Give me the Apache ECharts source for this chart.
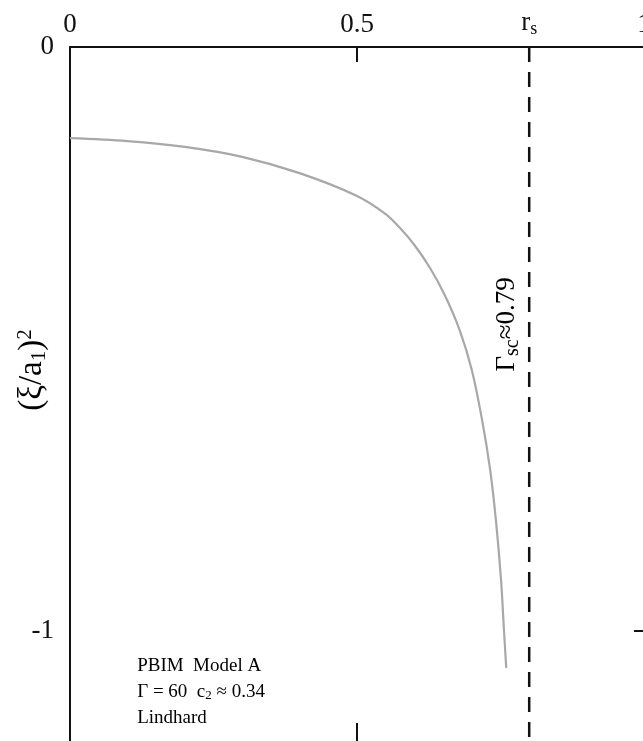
<!DOCTYPE html>
<html><head><meta charset="utf-8">
<script src="https://cdn.jsdelivr.net/npm/echarts@6/dist/echarts.min.js"></script>
<style>html,body{margin:0;padding:0;background:#fff}#c{width:643px;height:741px}</style>
</head><body><div id="c"></div>
<script>
const curveX = [0, 0.1, 0.2, 0.3, 0.4, 0.5, 0.55, 0.575, 0.6, 0.627, 0.653, 0.679, 0.700, 0.718, 0.732, 0.742, 0.751, 0.756, 0.760];
const curveY = [-0.156, -0.161, -0.171, -0.188, -0.216, -0.255, -0.286, -0.310, -0.339, -0.378, -0.425, -0.485, -0.553, -0.639, -0.724, -0.810, -0.913, -0.998, -1.063];
const rsValue = 0.8;
const xTicks = [0, 0.5, 0.8, 1];
const yTicks = [0, -1];
const textLines = ['PBIM  Model A', 'Γ = 60  c₂ ≈ 0.34', 'Lindhard'];

const FONT = '"Liberation Serif","DejaVu Serif",serif';
const X0 = 70, W = 574, Y0 = 47, YMIN = -1.195, H = 698;
const chart = echarts.init(document.getElementById('c'), null, {renderer: 'canvas'});
const curve = curveX.map((x, i) => [x, curveY[i]]);
const axisLine = {show: true, onZero: false, lineStyle: {color: '#111', width: 2}};

chart.setOption({
  backgroundColor: '#fff',
  animation: false,
  grid: {left: X0, top: Y0, width: W, height: H, containLabel: false, outerBoundsMode: 'none'},
  xAxis: [{
    type: 'value', position: 'top', min: 0, max: 1,
    axisLine: axisLine, splitLine: {show: false},
    axisTick: {show: true, inside: true, length: 15, customValues: [0.5, rsValue], lineStyle: {color: '#111', width: 2}},
    axisLabel: {show: true, customValues: xTicks, margin: 9, fontFamily: FONT, fontSize: 27, color: '#111',
      formatter: v => Math.abs(v - rsValue) < 1e-6 ? '{r|r}{s|s}' : String(v),
      rich: {r: {fontFamily: FONT, fontSize: 27, color: '#111'}, s: {fontFamily: FONT, fontSize: 18, color: '#111', padding: [12, 0, 0, 0]}}}
  }, {
    type: 'value', position: 'bottom', min: 0, max: 1,
    axisLine: axisLine, splitLine: {show: false},
    axisTick: {show: true, inside: true, length: 22, customValues: [0.5], lineStyle: {color: '#111', width: 2}},
    axisLabel: {show: false}
  }],
  yAxis: [{
    type: 'value', position: 'left', min: YMIN, max: 0,
    axisLine: axisLine, splitLine: {show: false},
    axisTick: {show: false},
    axisLabel: {show: true, customValues: yTicks, margin: 16, fontFamily: FONT, fontSize: 27, color: '#111',
      formatter: v => v === 0 ? '0' : String(v)}
  }, {
    type: 'value', position: 'right', min: YMIN, max: 0,
    axisLine: axisLine, splitLine: {show: false},
    axisTick: {show: true, inside: true, length: 10, customValues: [-1], lineStyle: {color: '#111', width: 2}},
    axisLabel: {show: false}
  }],
  series: [{
    type: 'line', xAxisIndex: 0, yAxisIndex: 0, data: curve, smooth: 0.35, showSymbol: false,
    lineStyle: {color: '#a8a8a8', width: 2.2}
  }, {
    type: 'line', xAxisIndex: 0, yAxisIndex: 0, data: [[rsValue, 0], [rsValue, YMIN]], showSymbol: false,
    lineStyle: {color: '#111', width: 2.5, type: [15, 10]}
  }]
});

const toPx = (x, y) => chart.convertToPixel({xAxisIndex: 0, yAxisIndex: 0}, [x, y]);
const pText = toPx(0.117, -1.0);
const pGam = toPx(0.761, -0.475);
const pName = toPx(0, -0.553);
chart.setOption({graphic: [
  {type: 'text', left: pText[0], top: pText[1] + 25, style: {text: '{a|' + textLines[0] + '}\n{a|Γ = 60  c}{s|2}{a| ≈ 0.34}\n{a|' + textLines[2] + '}',
    rich: {a: {fontFamily: FONT, fontSize: 19, color: '#111', lineHeight: 26}, s: {fontFamily: FONT, fontSize: 13, color: '#111', lineHeight: 26, padding: [8, 0, 0, 0]}}}},
  {type: 'text', x: pGam[0], y: pGam[1], rotation: Math.PI / 2,
    style: {text: '{a|Γ}{s|sc}{a|≈0.79}', align: 'center', verticalAlign: 'middle',
      rich: {a: {fontFamily: FONT, fontSize: 27, color: '#111'}, s: {fontFamily: FONT, fontSize: 20, color: '#111', padding: [12, 0, 0, 0]}}}},
  {type: 'text', x: pName[0] - 38, y: pName[1], rotation: Math.PI / 2,
    style: {text: '{t|(ξ/a}{s|1}{t|)}{p|2}', align: 'center', verticalAlign: 'middle',
      rich: {t: {fontFamily: FONT, fontSize: 33, color: '#111'},
        s: {fontFamily: FONT, fontSize: 21, color: '#111', padding: [14, 0, 0, 0]},
        p: {fontFamily: FONT, fontSize: 21, color: '#111', padding: [0, 0, 14, 0]}}}}
]});
</script></body></html>
